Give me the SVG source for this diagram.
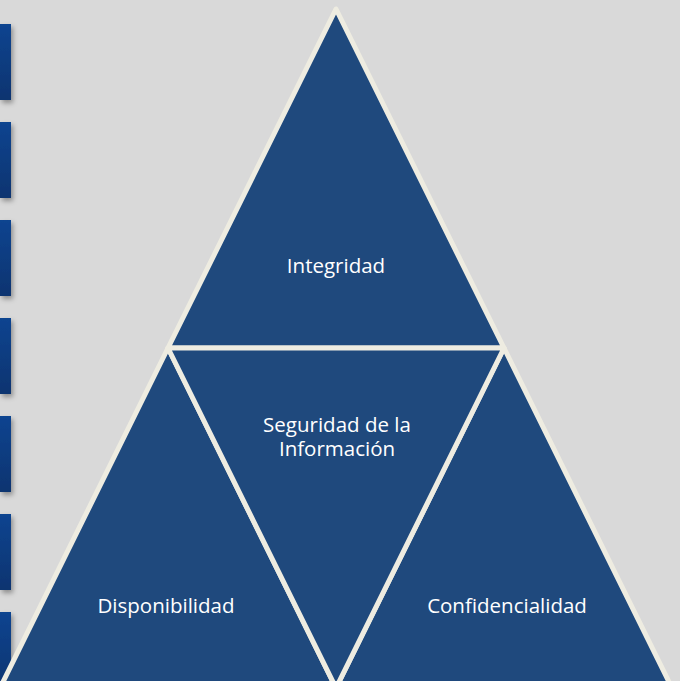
<svg xmlns="http://www.w3.org/2000/svg" width="680" height="681" viewBox="0 0 680 681">
  <defs>
    <linearGradient id="barGrad" x1="0" y1="0" x2="0" y2="1">
      <stop offset="0" stop-color="#114490"/>
      <stop offset="1" stop-color="#0B3470"/>
    </linearGradient>
    <filter id="shadow" x="-100%" y="-20%" width="400%" height="150%">
      <feDropShadow dx="2" dy="3" stdDeviation="2.5" flood-color="#000000" flood-opacity="0.35"/>
    </filter>
    <style>
      .seg { fill: #1F497D; stroke: #EEECE1; stroke-width: 5; stroke-linejoin: round; }
      .bar { fill: url(#barGrad); filter: url(#shadow); }
      .lbl { font-family: "Open Sans", "Noto Sans", "DejaVu Sans", sans-serif; font-size: 20.5px; fill: #FFFFFF; text-anchor: middle; }
    </style>
  </defs>
  <rect width="680" height="681" fill="#D9D9D9"/>
  <g id="side-bars">
    <rect class="bar" x="0" y="24" width="11" height="76"/>
    <rect class="bar" x="0" y="122" width="11" height="76"/>
    <rect class="bar" x="0" y="220" width="11" height="76"/>
    <rect class="bar" x="0" y="318" width="11" height="76"/>
    <rect class="bar" x="0" y="416" width="11" height="76"/>
    <rect class="bar" x="0" y="514" width="11" height="76"/>
    <rect class="bar" x="0" y="612" width="11" height="76"/>
  </g>
  <g id="connectors"></g>
  <g id="node-integridad">
    <polygon class="seg" points="336,9 168,348 504,348"/>
    <text class="lbl" x="336" y="273">Integridad</text>
  </g>
  <g id="node-disponibilidad">
    <polygon class="seg" points="168,348 0,688 336,688"/>
    <text class="lbl" x="166" y="613">Disponibilidad</text>
  </g>
  <g id="node-confidencialidad">
    <polygon class="seg" points="504,348 336,688 672,688"/>
    <text class="lbl" x="507" y="613">Confidencialidad</text>
  </g>
  <g id="node-seguridad">
    <polygon class="seg" points="168,348 504,348 336,688"/>
    <text class="lbl" x="337" y="432">Seguridad de la</text>
    <text class="lbl" x="337" y="456">Información</text>
  </g>
</svg>
